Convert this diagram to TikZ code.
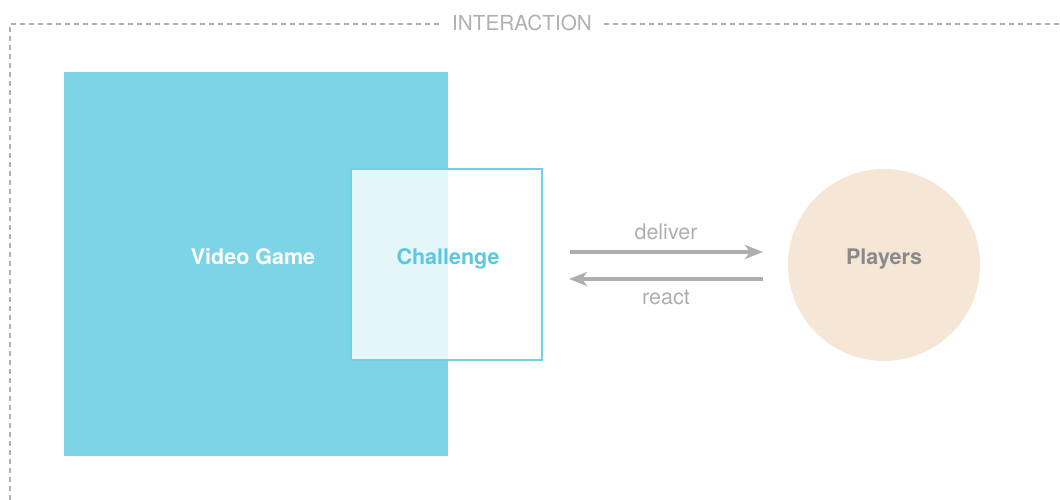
\documentclass[tikz,border=0pt]{standalone}
\usepackage{fontspec}
\setmainfont{TeX Gyre Heros}
\usetikzlibrary{arrows.meta}
\definecolor{vgcyan}{HTML}{7DD4E6}
\definecolor{chcyan}{HTML}{72D0E6}
\definecolor{chtext}{HTML}{5BC7E0}
\definecolor{plbg}{HTML}{F5E6D6}
\definecolor{pltext}{HTML}{8A8A8A}
\definecolor{arrgray}{HTML}{AEAEAE}
\definecolor{framegray}{HTML}{B0B0B0}
\tikzset{
  lbl/.style={font=\fontsize{21.5}{23}\selectfont, text=arrgray, inner sep=0pt},
  conn/.style={draw=arrgray, line width=3.4pt, -{Stealth[length=18pt,width=14pt,inset=5pt]}},
  boxtext/.style={font=\fontsize{21.5}{23}\selectfont\bfseries, inner sep=0pt},
}
\begin{document}
\begin{tikzpicture}[x=1pt,y=-1pt]
\useasboundingbox (0,0) rectangle (1060,500);
% frame
\coordinate (fl) at (10,500);
\coordinate (ftl) at (10,24);
\coordinate (ftr) at (1060,24);
\draw[framegray, line width=1.4pt, dash pattern=on 5pt off 4pt] (fl) -- (ftl) -- (440,24);
\draw[framegray, line width=1.4pt, dash pattern=on 5pt off 4pt] (604,24) -- (ftr);
\node[font=\fontsize{20.7}{22}\selectfont, text=framegray, inner sep=0pt] (title) at (522,23) {INTERACTION};
% video game
\node[fill=vgcyan, minimum width=384pt, minimum height=384pt, inner sep=0pt, anchor=north west] (vg) at (64,72) {};
\node[boxtext, text=white] (vgt) at (253,257) {Video Game};
% challenge
\node[draw=chcyan, line width=2.9pt, fill=white, fill opacity=0.8, draw opacity=1, minimum width=191pt, minimum height=191pt, inner sep=0pt] (ch) at (446.5,264.5) {};
\node[boxtext, text=chtext] (cht) at (448,258.5) {Challenge};
% players
\node[circle, fill=plbg, minimum size=192pt, inner sep=0pt] (pl) at (884,265) {};
\node[boxtext, text=pltext] (plt) at (884,259) {Players};
% arrows
\coordinate (d1) at (570,252);
\coordinate (d2) at (763,252);
\coordinate (r1) at (763,279);
\coordinate (r2) at (569,279);
\draw[conn] (d1) -- (d2);
\draw[conn] (r1) -- (r2);
\node[lbl] (dl) at (666,232) {deliver};
\node[lbl] (rl) at (666,297) {react};
\end{tikzpicture}
\end{document}
